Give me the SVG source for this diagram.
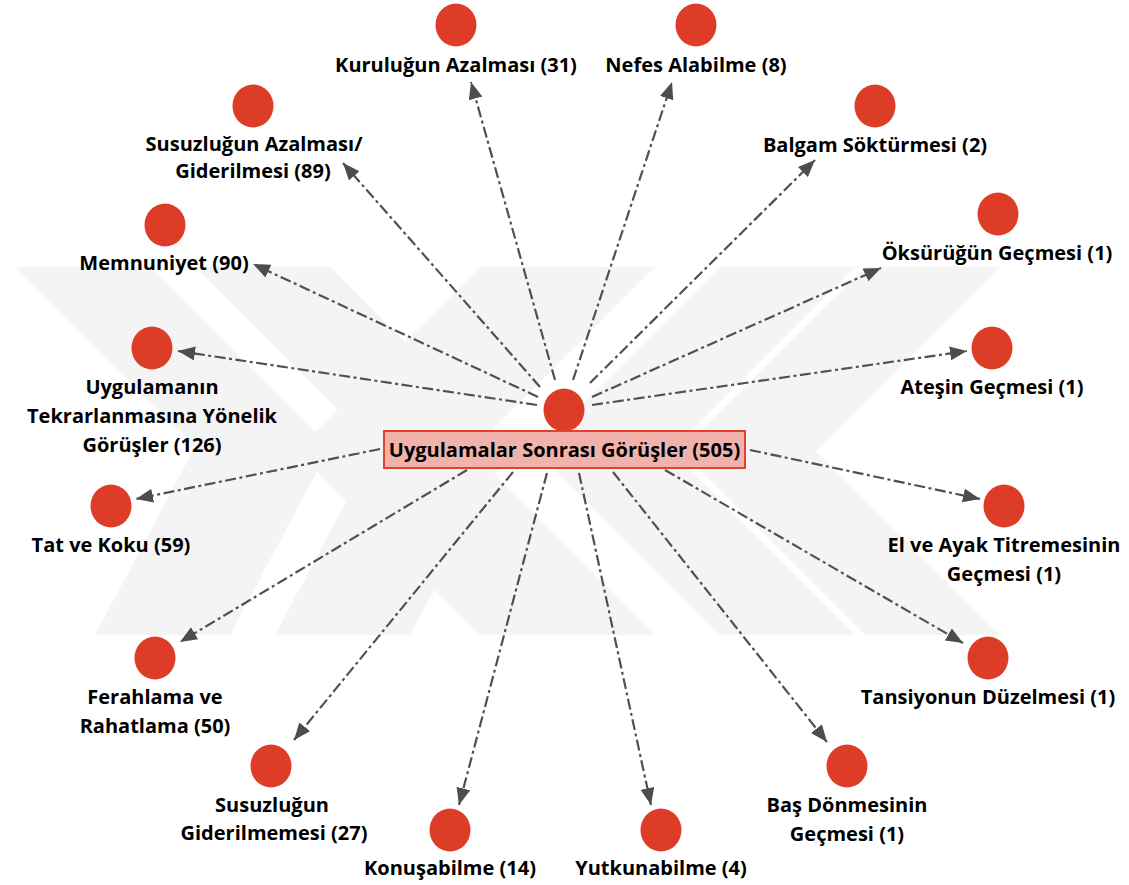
<svg xmlns="http://www.w3.org/2000/svg" width="1129" height="885" viewBox="0 0 1129 885">
<style>
.wm{fill:#f4f4f4}
.n{fill:#dd3c27}
.t{font-family:"Open Sans","Noto Sans",sans-serif;font-weight:700;font-size:20px;fill:#000;text-anchor:middle}
.c{fill:none;stroke:#505050;stroke-width:2.2;stroke-dasharray:11 3.5 3 3.5}
</style>
<defs>
<marker id="ah" markerUnits="userSpaceOnUse" markerWidth="18" markerHeight="15" refX="17" refY="7" orient="auto">
<path d="M0,0 L17,7 L0,14 z" fill="#4d4d4d"/>
</marker>
</defs>
<rect width="1129" height="885" fill="#fff"/>
<g id="watermark">
<polygon class="wm" points="15,267 150,267 330,447 230,635 95,635 195,447"/>
<polygon class="wm" points="195,267 330,267 510,447 410,635 275,635 375,447"/>
<polygon class="wm" points="480,267 655,267 471,451 655,635 480,635 296,451"/>
<polygon class="wm" points="720,267 855,267 671,451 855,635 720,635 536,451"/>
<polygon class="wm" points="865,267 1000,267 816,451 1000,635 865,635 681,451"/>
</g>
<g id="connectors">
<line class="c" x1="555" y1="380" x2="471" y2="82" marker-end="url(#ah)"/>
<line class="c" x1="573" y1="380" x2="672" y2="82" marker-end="url(#ah)"/>
<line class="c" x1="540" y1="387" x2="343" y2="163" marker-end="url(#ah)"/>
<line class="c" x1="590" y1="383" x2="815" y2="160" marker-end="url(#ah)"/>
<line class="c" x1="538" y1="397" x2="253" y2="264" marker-end="url(#ah)"/>
<line class="c" x1="592" y1="397" x2="881" y2="268" marker-end="url(#ah)"/>
<line class="c" x1="537" y1="405" x2="178" y2="351" marker-end="url(#ah)"/>
<line class="c" x1="592" y1="405" x2="967" y2="351" marker-end="url(#ah)"/>
<line class="c" x1="380" y1="449" x2="136" y2="499" marker-end="url(#ah)"/>
<line class="c" x1="750" y1="450" x2="980" y2="499" marker-end="url(#ah)"/>
<line class="c" x1="467" y1="470" x2="180" y2="642" marker-end="url(#ah)"/>
<line class="c" x1="665" y1="470" x2="963" y2="643" marker-end="url(#ah)"/>
<line class="c" x1="513" y1="472" x2="294" y2="740" marker-end="url(#ah)"/>
<line class="c" x1="547" y1="473" x2="459" y2="805" marker-end="url(#ah)"/>
<line class="c" x1="579" y1="473" x2="651" y2="805" marker-end="url(#ah)"/>
<line class="c" x1="613" y1="472" x2="827" y2="742" marker-end="url(#ah)"/>
</g>
<g id="center">
<ellipse class="n" cx="564" cy="410" rx="20.5" ry="21.5"/>
<rect x="384" y="431" width="361" height="37" fill="#f2b2ac" stroke="#e0422f" stroke-width="2"/>
<text class="t" x="564.5" y="457">Uygulamalar Sonrası Görüşler (505)</text>
</g>
<g id="n-kuruluk"><ellipse class="n" cx="456" cy="25" rx="20.5" ry="21.5"/><text class="t" x="456" y="72">Kuruluğun Azalması (31)</text></g>
<g id="n-nefes"><ellipse class="n" cx="696" cy="25" rx="20.5" ry="21.5"/><text class="t" x="696" y="72">Nefes Alabilme (8)</text></g>
<g id="n-susuzaz"><ellipse class="n" cx="253" cy="106" rx="20.5" ry="21.5"/><text class="t" x="254" y="151">Susuzluğun Azalması/</text><text class="t" x="253" y="178">Giderilmesi (89)</text></g>
<g id="n-balgam"><ellipse class="n" cx="875" cy="106" rx="20.5" ry="21.5"/><text class="t" x="875" y="152">Balgam Söktürmesi (2)</text></g>
<g id="n-memnuniyet"><ellipse class="n" cx="165" cy="225" rx="20.5" ry="21.5"/><text class="t" x="164" y="270">Memnuniyet (90)</text></g>
<g id="n-oksuruk"><ellipse class="n" cx="998" cy="214" rx="20.5" ry="21.5"/><text class="t" x="997" y="260">Öksürüğün Geçmesi (1)</text></g>
<g id="n-uygulama"><ellipse class="n" cx="152" cy="348" rx="20.5" ry="21.5"/><text class="t" x="152" y="394">Uygulamanın</text><text class="t" x="152" y="423">Tekrarlanmasına Yönelik</text><text class="t" x="152" y="452">Görüşler (126)</text></g>
<g id="n-ates"><ellipse class="n" cx="992" cy="348" rx="20.5" ry="21.5"/><text class="t" x="992" y="394">Ateşin Geçmesi (1)</text></g>
<g id="n-tat"><ellipse class="n" cx="111" cy="506" rx="20.5" ry="21.5"/><text class="t" x="111" y="552">Tat ve Koku (59)</text></g>
<g id="n-elayak"><ellipse class="n" cx="1004" cy="506" rx="20.5" ry="21.5"/><text class="t" x="1004" y="552">El ve Ayak Titremesinin</text><text class="t" x="1004" y="581">Geçmesi (1)</text></g>
<g id="n-ferahlama"><ellipse class="n" cx="155" cy="658" rx="20.5" ry="21.5"/><text class="t" x="155" y="704">Ferahlama ve</text><text class="t" x="155" y="733">Rahatlama (50)</text></g>
<g id="n-tansiyon"><ellipse class="n" cx="988" cy="658" rx="20.5" ry="21.5"/><text class="t" x="988" y="704">Tansiyonun Düzelmesi (1)</text></g>
<g id="n-susuzgid"><ellipse class="n" cx="271" cy="766" rx="20.5" ry="21.5"/><text class="t" x="272" y="812">Susuzluğun</text><text class="t" x="274" y="840">Giderilmemesi (27)</text></g>
<g id="n-konusma"><ellipse class="n" cx="450" cy="830" rx="20.5" ry="21.5"/><text class="t" x="450" y="875">Konuşabilme (14)</text></g>
<g id="n-yutkunma"><ellipse class="n" cx="661" cy="830" rx="20.5" ry="21.5"/><text class="t" x="661" y="875">Yutkunabilme (4)</text></g>
<g id="n-bas"><ellipse class="n" cx="847" cy="766" rx="20.5" ry="21.5"/><text class="t" x="847" y="812">Baş Dönmesinin</text><text class="t" x="847" y="841">Geçmesi (1)</text></g>
</svg>
